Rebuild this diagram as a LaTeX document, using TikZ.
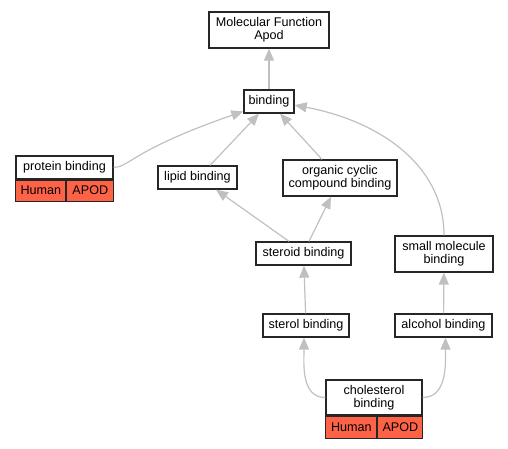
\documentclass[tikz,border=0pt]{standalone}
\usepackage{fontspec}
\setmainfont{Liberation Sans}
\usepackage{xcolor}
\usepackage{tikz}
\usetikzlibrary{arrows.meta}
\definecolor{tomato}{HTML}{FF6347}
\definecolor{edgegray}{HTML}{C0C0C0}
\tikzstyle{term} = [rectangle, draw=black!85, line width=1.3pt, fill=white, inner sep=0pt, align=center, font=\fontsize{12.6}{12.7}\selectfont]
\tikzstyle{cell} = [term, fill=tomato, line width=1pt, anchor=north west]
\tikzstyle{isa} = [edgegray, line width=1.2pt, -{Triangle[length=12pt,width=10pt]}]

\begin{document}
\begin{tikzpicture}[x=1pt, y=1pt]
    \useasboundingbox (0,0) rectangle (508,-448);
    \node[term, minimum width=120pt, minimum height=36pt] (mf) at (269,-30) {Molecular Function\\Apod};
    \node[term, minimum width=50pt, minimum height=23pt] (binding) at (269,-101.5) {binding};
    \node[term, minimum width=97pt, minimum height=23pt] (protein) at (64.5,-167.5) {protein binding};
    \node[cell, minimum width=50pt, minimum height=21pt] (proteinhuman) at (protein.south west) {Human};
    \node[cell, minimum width=47pt, minimum height=21pt] (proteinapod) at (proteinhuman.north east) {APOD};
    \node[term, minimum width=79pt, minimum height=23pt] (lipid) at (197.5,-177.5) {lipid binding};
    \node[term, minimum width=114pt, minimum height=36pt] (organic) at (340,-178) {organic cyclic\\compound binding};
    \node[term, minimum width=95pt, minimum height=23pt] (steroid) at (303.5,-253.5) {steroid binding};
    \node[term, minimum width=98pt, minimum height=36pt] (small) at (444,-254) {small molecule\\binding};
    \node[term, minimum width=86pt, minimum height=23pt] (sterol) at (306,-325.5) {sterol binding};
    \node[term, minimum width=97pt, minimum height=23pt] (alcohol) at (443.5,-325.5) {alcohol binding};
    \node[term, minimum width=96pt, minimum height=35pt] (cholesterol) at (374,-397.5) {cholesterol\\binding};
    \node[cell, minimum width=51pt, minimum height=22pt] (cholesterolhuman) at (cholesterol.south west) {Human};
    \node[cell, minimum width=45pt, minimum height=22pt] (cholesterolapod) at (cholesterolhuman.north east) {APOD};

    \draw[isa] (binding) -- (mf);
    \draw[isa] (protein.east) .. controls +(15,0) and +(-110,-38) .. (binding.201);
    \draw[isa] ([xshift=12.5pt]lipid.north) -- ([xshift=-10pt]binding.south);
    \draw[isa] ([xshift=-18pt]organic.north) -- ([xshift=11pt]binding.south);
    \draw[isa] (small.north) .. controls +(0,70) and +(85,-16) .. (binding.352);
    \draw[isa] ([xshift=-14.5pt]steroid.north) -- ([xshift=18.5pt]lipid.south);
    \draw[isa] ([xshift=5.5pt]steroid.north) -- ([xshift=-9pt]organic.south);
    \draw[isa] (sterol) -- (steroid);
    \draw[isa] (alcohol) -- (small);
    \draw[isa] (cholesterol.west) to[out=180, in=-90] ([xshift=-2pt]sterol.south);
    \draw[isa] (cholesterol.east) to[out=0, in=-90] ([xshift=2pt]alcohol.south);
\end{tikzpicture}
\end{document}
